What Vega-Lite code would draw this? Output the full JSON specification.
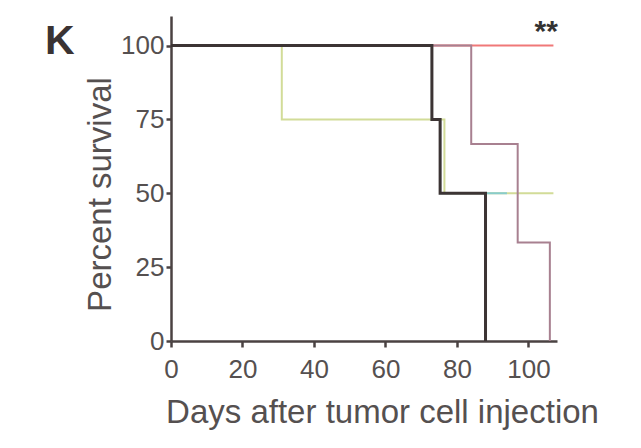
{
  "$schema": "https://vega.github.io/schema/vega-lite/v6.json",
  "autosize": "none",
  "width": 386,
  "height": 325,
  "padding": {"left": 171, "top": 16, "right": 84, "bottom": 107},
  "background": "white",
  "title": {"text": "K", "anchor": "start", "frame": "group", "font": "Liberation Sans", "fontSize": 41, "fontWeight": "bold", "color": "#3a3333", "baseline": "alphabetic", "dx": -126, "dy": 83},
  "config": {"view": {"stroke": null}},
  "datasets": {
    "surv": [
      {"group": "G1", "day": 0, "pct": 100}, {"group": "G1", "day": 107, "pct": 100},
      {"group": "G2", "day": 0, "pct": 100}, {"group": "G2", "day": 31, "pct": 75}, {"group": "G2", "day": 76.5, "pct": 50}, {"group": "G2", "day": 107, "pct": 50},
      {"group": "G3", "day": 0, "pct": 100}, {"group": "G3", "day": 84, "pct": 66.7}, {"group": "G3", "day": 97, "pct": 33.3}, {"group": "G3", "day": 106, "pct": 0},
      {"group": "G4", "day": 0, "pct": 100}, {"group": "G4", "day": 73, "pct": 75}, {"group": "G4", "day": 75.3, "pct": 50}, {"group": "G4", "day": 94, "pct": 50},
      {"group": "G5", "day": 0, "pct": 100}, {"group": "G5", "day": 73, "pct": 75}, {"group": "G5", "day": 75.3, "pct": 50}, {"group": "G5", "day": 88, "pct": 0}
    ],
    "sig": [{"day": 105, "pct": 104.5, "label": "**"}]
  },
  "layer": [
    {
      "data": {"name": "surv"},
      "transform": [{"filter": "datum.group != 'G5'"}],
      "mark": {"type": "line", "interpolate": "step-after", "strokeWidth": 2},
      "encoding": {
        "x": {"field": "day", "type": "quantitative", "scale": {"domain": [0, 108], "nice": false},
          "axis": {"values": [0, 20, 40, 60, 80, 100], "title": "Days after tumor cell injection", "grid": false, "labelFlush": false,
            "domainColor": "#4a4242", "domainWidth": 2.5, "tickColor": "#4a4242", "tickWidth": 2.5, "tickSize": 6,
            "labelFont": "Liberation Sans", "labelFontSize": 26, "labelColor": "#555050", "labelPadding": 9,
            "titleFont": "Liberation Sans", "titleFontSize": 33, "titleFontWeight": "normal", "titleColor": "#555050", "titlePadding": 14, "titleX": 211}},
        "y": {"field": "pct", "type": "quantitative", "scale": {"domain": [0, 110], "nice": false},
          "axis": {"values": [0, 25, 50, 75, 100], "title": "Percent survival", "grid": false, "labelFlush": false,
            "domainColor": "#4a4242", "domainWidth": 2.5, "tickColor": "#4a4242", "tickWidth": 2.5, "tickSize": 5,
            "labelFont": "Liberation Sans", "labelFontSize": 26, "labelColor": "#555050", "labelPadding": 2,
            "titleFont": "Liberation Sans", "titleFontSize": 33, "titleFontWeight": "normal", "titleColor": "#555050", "titlePadding": 3, "titleY": 178}},
        "color": {"field": "group", "type": "nominal", "legend": null,
          "scale": {"domain": ["G1", "G2", "G3", "G4", "G5"], "range": ["#f07878", "#d2dc98", "#a88090", "#88cccc", "#3a3030"]}}
      }
    },
    {
      "data": {"name": "surv"},
      "transform": [{"filter": "datum.group == 'G5'"}],
      "mark": {"type": "line", "interpolate": "step-after", "strokeWidth": 3, "color": "#3c3434"},
      "encoding": {
        "x": {"field": "day", "type": "quantitative"},
        "y": {"field": "pct", "type": "quantitative"}
      }
    },
    {
      "data": {"name": "sig"},
      "mark": {"type": "text", "font": "Liberation Sans", "fontSize": 30, "fontWeight": "bold", "color": "#333", "baseline": "middle"},
      "encoding": {
        "x": {"field": "day", "type": "quantitative"},
        "y": {"field": "pct", "type": "quantitative"},
        "text": {"field": "label"}
      }
    }
  ]
}
